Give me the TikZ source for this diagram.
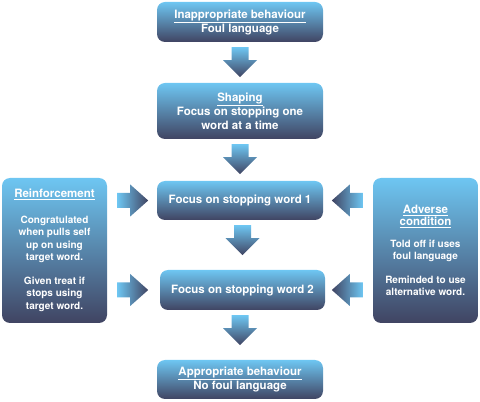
\documentclass[tikz,border=0pt]{standalone}
\usepackage{fontspec}
\setmainfont{TeX Gyre Heros}
\usetikzlibrary{calc, positioning}
\definecolor{boxtop}{RGB}{110,198,242}
\definecolor{boxmid}{RGB}{70,155,210}
\definecolor{boxbottom}{RGB}{64,68,98}

\newcommand{\downblock}[2]{%
  \shade[top color=boxtop, middle color=boxmid, bottom color=boxbottom]
    ($(#2.north |- #1.south)+(-8.5,-5)$) -- ++(17,0) -- ++(0,-13) -- ++(8.5,0)
    -- ++(-17,-17) -- ++(-17,17) -- ++(8.5,0) -- cycle;}
\newcommand{\rightblock}[2]{%
  \shade[left color=boxtop, middle color=boxmid, right color=boxbottom]
    ($(#1.east |- #2.west)+(10,7.5)$) -- ++(13,0) -- ++(0,8.5) -- ++(18,-16)
    -- ++(-18,-16) -- ++(0,8.5) -- ++(-13,0) -- cycle;}
\newcommand{\leftblock}[2]{%
  \shade[left color=boxbottom, middle color=boxmid, right color=boxtop]
    ($(#1.west |- #2.east)+(-10,7.5)$) -- ++(-13,0) -- ++(0,8.5) -- ++(-18,-16)
    -- ++(18,-16) -- ++(0,8.5) -- ++(13,0) -- cycle;}

\begin{document}
\begin{tikzpicture}[x=1pt, y=1pt,
    flowbox/.style={rounded corners=8pt, top color=boxtop, middle color=boxmid,
      bottom color=boxbottom, minimum width=166pt, inner sep=0pt, align=center,
      text=white, font=\bfseries\fontsize{11.5}{14}\selectfont},
    sidebox/.style={flowbox, minimum width=105pt, minimum height=145pt,
      font=\bfseries\fontsize{10}{12.5}\selectfont}]
  \useasboundingbox (0,0) rectangle (480,402);

  \node[flowbox, minimum height=40pt] (inapp) at (240,380)
    {\underline{Inappropriate behaviour}\\Foul language};
  \node[flowbox, minimum height=56pt] (shaping) at (240,291)
    {\underline{Shaping}\\Focus on stopping one\\word at a time};
  \node[flowbox, minimum height=39pt] (word1) at (240,201.5)
    {Focus on stopping word 1};
  \node[flowbox, minimum width=165pt, minimum height=40pt] (word2) at (242.5,112)
    {Focus on stopping word 2};
  \node[flowbox, minimum height=39pt] (appr) at (240,22.5)
    {\underline{Appropriate behaviour}\\No foul language};

  \node[sidebox] (reinf) at (54.5,151.5)
    {{\fontsize{11.5}{14}\selectfont\underline{Reinforcement}}\\[13pt]
     Congratulated\\when pulls self\\up on using\\target word.\\[11pt]
     Given treat if\\stops using\\target word.};
  \node[sidebox] (adverse) at (425.5,151.5)
    {{\fontsize{11.5}{15}\selectfont\underline{Adverse}}\\
     {\fontsize{11.5}{15}\selectfont\underline{condition}}\\[9pt]
     Told off if uses\\foul language\\[11pt]
     Reminded to use\\alternative word.};

  \downblock{inapp}{shaping}
  \downblock{shaping}{word1}
  \downblock{word1}{word2}
  \downblock{word2}{appr}
  \rightblock{reinf}{word1}
  \rightblock{reinf}{word2}
  \leftblock{adverse}{word1}
  \leftblock{adverse}{word2}
\end{tikzpicture}
\end{document}
